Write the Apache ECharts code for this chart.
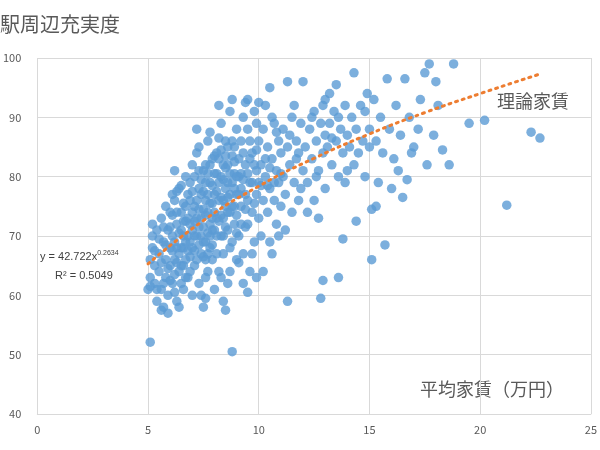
<!DOCTYPE html>
<html><head><meta charset="utf-8">
<script src="https://cdn.jsdelivr.net/npm/echarts@6/dist/echarts.min.js"></script>
<style>body{margin:0}#c{width:600px;height:450px}</style></head>
<body><div id="c"></div>
<script>
const xTicks = [0,5,10,15,20,25];
const stations = [
[5.1,52.1],[5.0,61],[5.1,63],[5.1,66],[5.2,68],[5.2,70],[5.3,62],[5.3,65],[5.4,59],[5.4,71],[5.5,64],[5.5,67],[5.6,61],[5.6,73],[5.7,58],[5.7,69],[5.8,63],[5.8,66],[5.9,71],[5.9,60],[6.0,74],[6.0,65],[5.2,72],[5.4,61],[5.6,57.5],[5.9,57],[5.3,67.5],[5.7,62],[5.8,75],[6.0,68],[5.1,61.5],
[6.1,62],[6.1,70],[6.2,76],[6.2,66],[6.3,59],[6.3,72],[6.4,64],[6.4,78],[6.5,68],[6.5,74],[6.6,61],[6.6,70],[6.7,80],[6.7,66],[6.8,73],[6.8,63],[6.9,76],[6.9,69],[7.0,82],[7.0,60],[6.2,81],[6.4,58],[6.6,75.5],[6.8,67.5],[7.0,71],[6.3,68],[6.5,62],[6.9,64],[6.1,77],[6.7,72.5],[6.5,78.5],[6.3,74],[6.9,79],[6.6,65],[6.2,63.5],
[7.1,65],[7.1,75],[7.2,70],[7.2,84],[7.3,62],[7.3,78],[7.4,73],[7.4,67],[7.5,81],[7.5,58],[7.6,76],[7.6,69],[7.7,86],[7.7,64],[7.8,72],[7.8,79],[7.9,66],[7.9,83],[8.0,74],[8.0,61],[7.2,88],[7.4,60],[7.6,82],[7.8,68],[8.0,77],[7.3,71.5],[7.5,74.5],[7.7,77],[7.9,71],[7.1,80],[7.3,85],[7.6,63],[7.8,87.5],[7.5,66.5],[7.9,75.5],[7.2,73],[7.7,70.5],[8.0,80.5],[7.4,77],[7.6,59.5],
[8.1,70],[8.1,84],[8.2,76],[8.2,64],[8.3,80],[8.3,89],[8.4,73],[8.4,67],[8.5,86],[8.5,78],[8.6,62],[8.6,82],[8.7,74],[8.7,91],[8.8,69],[8.8,79],[8.9,85],[8.9,72],[9.0,77],[9.0,88],[8.2,92],[8.4,59],[8.6,71],[8.8,93],[9.0,66],[8.1,77.5],[8.3,73.5],[8.5,81.5],[8.7,68],[8.9,80.5],[8.2,86.5],[8.6,76.5],[8.8,83.5],[8.4,79.5],[9.0,73.5],[8.8,50.5],[8.7,64],[8.3,63],[8.5,57.5],
[9.1,80],[9.1,70],[9.2,86],[9.2,75],[9.3,90],[9.3,67],[9.4,82],[9.4,77],[9.5,72],[9.5,88],[9.6,79],[9.6,64],[9.7,84],[9.7,74],[9.8,91],[9.8,69],[9.9,81],[9.9,77],[10.0,86],[10.0,73],[9.3,62],[9.5,93],[9.7,67],[9.9,89],[10.0,79],[9.2,80.5],[9.6,83],[9.4,71.5],[9.8,75.5],[9.1,65.5],[9.5,60.5],[9.9,63],[9.4,92.5],
[10.1,82],[10.1,70],[10.2,88],[10.2,76],[10.3,80],[10.3,92],[10.4,74],[10.4,85],[10.5,78],[10.5,95],[10.6,83],[10.6,67],[10.7,89],[10.7,76],[10.8,81],[10.8,72],[10.9,86],[10.9,79],[11.0,84],[11.0,75],[10.2,64],[10.6,90],[10.9,70],[10.4,78.5],[10.8,87.5],[10.0,92.5],[10.5,69],
[11.1,80],[11.1,88],[11.2,77],[11.3,85],[11.3,96],[11.3,59],[11.4,82],[11.5,90],[11.5,74],[11.6,79],[11.7,86],[11.7,83],[11.8,76],[11.9,89],[12.0,81],[12.0,96],[11.2,71],[11.6,92],[11.9,78],[11.4,87],[11.8,84],
[12.1,85],[12.2,79],[12.3,88],[12.4,83],[12.5,91],[12.5,76],[12.6,86],[12.7,81],[12.8,89],[12.8,59.5],[12.9,62.5],[12.9,84],[13.0,93],[13.0,78],[12.2,74],[12.6,80],[13.0,87],[12.4,90],[12.7,73],[12.9,92],
[13.1,85],[13.2,89],[13.3,82],[13.4,91],[13.5,95.5],[13.5,86],[13.6,63],[13.6,80],[13.7,88],[13.8,69.5],[13.8,84],[13.9,92],[14.0,87],[13.2,94],[13.6,90],[14.0,81],[13.3,86.5],[13.9,79],
[14.1,85],[14.2,90],[14.3,97.5],[14.4,72.5],[14.4,88],[14.5,84],[14.6,92],[14.7,86],[14.8,80],[14.9,94],[15.0,88],[14.3,82],[14.8,91],[15.0,85],
[15.1,66],[15.1,74.5],[15.2,93],[15.3,75],[15.3,86],[15.5,90],[15.6,84],[15.7,68.5],[15.8,96.5],[15.9,88],[16.1,83],[16.2,92],[16.4,87],[16.5,76.5],[16.6,96.5],[16.7,79.5],[16.8,90],[17.0,85],[17.2,88],[17.5,97.5],[17.6,82],[17.7,99],[17.9,87],[18.1,92],[18.3,84.5],[18.6,82],[18.8,99],[19.5,89],[20.2,89.5],[21.2,75.2],[22.3,87.5],[22.7,86.5],[16.0,78],[16.3,81],[17.3,93],[18.0,96],[15.4,79],[16.9,84],
[5.5,69.5],[5.6,65.5],[5.7,71.5],[5.8,68.5],[5.9,64.5],[6.0,62.5],[6.0,71.5],[6.1,67.5],[6.1,73.5],[6.2,69],[6.2,60.5],[6.3,65.5],[6.3,77.5],[6.4,70.5],[6.4,67],[6.5,65],[6.5,71],[6.6,68],[6.6,72.5],[6.7,63],[6.7,69],[6.7,75],[6.8,70],[6.8,77],[6.9,66.5],[6.9,72],[7.0,68],[7.0,74],[7.0,77.5],[7.1,70],[7.1,67.5],[7.1,72.5],[7.2,76],[7.2,66],[7.3,68.5],[7.3,74.5],[7.3,81],[7.4,70],[7.4,79.5],[7.5,71.5],[7.5,77.5],[7.5,69],[7.6,73.5],[7.6,79],[7.6,66],[7.7,74],[7.7,80.5],[7.7,67],[7.8,75.5],[7.8,70],[7.8,82],[7.9,73],[7.9,78.5],[7.9,68.5],[8.0,71],[8.0,83.5],[8.1,73],[8.1,80.5],[8.1,67],[8.2,72.5],[8.2,79],[8.2,83],[8.3,76.5],[8.3,70],[8.3,84.5],[8.4,76],[8.4,82],[8.4,70],[8.5,75],[8.5,71.5],[8.5,83.5],[8.6,79],[8.6,74],[8.6,85],[8.7,77],[8.7,80.5],[8.8,75],[8.8,86],[8.9,78],[8.9,75],[8.9,82.5],[9.0,80],[9.0,70.5],[9.1,77],[9.1,83],[9.2,78],[9.2,72],[9.3,84],[9.3,79.5],[9.4,74.5],[9.5,80.5],[9.5,76],[9.6,86],[9.7,79],[9.8,82],[9.9,84.5],[10.1,78.5],[10.3,83],[10.5,81.5],[10.7,79],[11.0,80.5]
];
const trendX = [5,7.5,10,12.5,15,17.5,20,22.7];
const trendY = [65.3,72.6,78.4,83.1,87.2,90.8,94.0,97.3];
const chart = echarts.init(document.getElementById('c'));
const font = '"Noto Sans CJK JP", "Noto Sans", sans-serif';
chart.setOption({
  animation:false,
  textStyle:{fontFamily:font},
  grid:{left:30,right:5,top:58,bottom:36},
  xAxis:{type:'value',min:0,max:25,interval:5,
    axisLine:{show:true,lineStyle:{color:'#d9d9d9'}},axisTick:{show:false},
    axisLabel:{color:'#595959',fontSize:11,margin:10},
    splitLine:{lineStyle:{color:'#d9d9d9'}}},
  yAxis:{type:'value',min:40,max:100,interval:10,
    axisLine:{show:false},axisTick:{show:false},
    axisLabel:{color:'#595959',fontSize:11,margin:16},
    splitLine:{lineStyle:{color:'#d9d9d9'}}},
  series:[
    {type:'scatter',data:stations,symbolSize:9.5,itemStyle:{color:'#5b9bd5'}},
    {type:'line',data:trendX.map((x,i)=>[x,trendY[i]]),smooth:true,symbol:'none',
     lineStyle:{color:'#ed7d31',width:3,type:[2,5],cap:'round'}}
  ],
  graphic:[
    {type:'text',left:0,top:14,style:{text:'駅周辺充実度',fontSize:20,fill:'#595959',fontFamily:font}},
    {type:'text',left:497,top:92,style:{text:'理論家賃',fontSize:18,fill:'#595959',fontFamily:font}},
    {type:'text',left:420,top:380,style:{text:'平均家賃（万円）',fontSize:18,fill:'#595959',fontFamily:font}},
    {type:'text',left:40,top:250,style:{rich:{a:{fontSize:11,fill:'#404040'},s:{fontSize:7,fill:'#404040',verticalAlign:'top',padding:[0,0,6,0]}},text:'{a|y = 42.722x}{s|0.2634}'}},
    {type:'text',left:55,top:270,style:{text:'R² = 0.5049',fontSize:11,fill:'#404040'}}
  ]
});
</script></body></html>
